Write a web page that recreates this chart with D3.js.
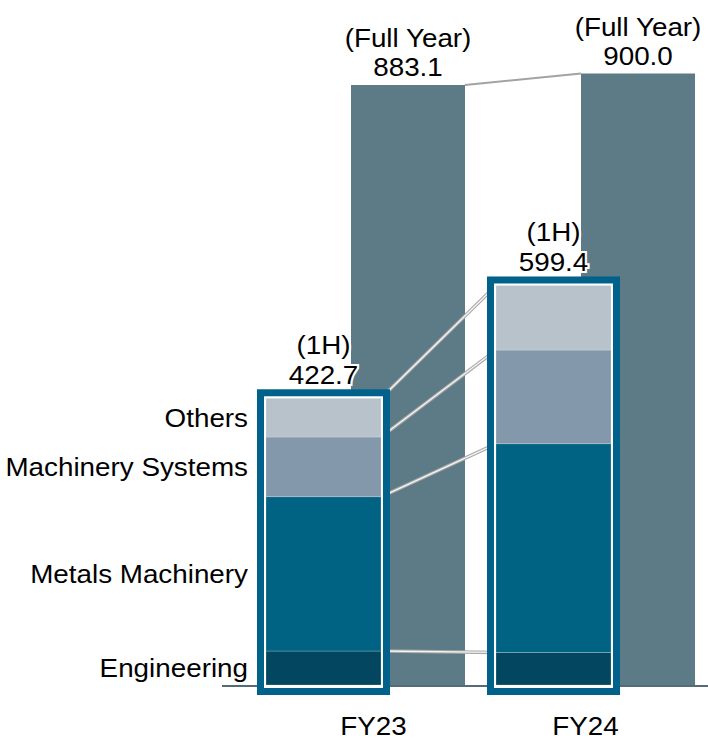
<!DOCTYPE html>
<html>
<head>
<meta charset="utf-8">
<script src="https://cdn.jsdelivr.net/npm/d3@7"></script>
<style>
  html, body { margin: 0; padding: 0; background: #fff; }
  text { font-family: "Liberation Sans", Arial, sans-serif; fill: #000; }
</style>
</head>
<body>
<script>
// chart values
const categories = ["FY23", "FY24"];
const fullYear = [883.1, 900.0];
const fullYearLabels = ["883.1", "900.0"];
const halfYearLabels = ["422.7", "599.4"];
const segments = ["Engineering", "Metals Machinery", "Machinery Systems", "Others"];
const engineering = [50, 48];
const metals = [227, 307];
const machinery = [88, 138];
const others = [57, 95];

const width = 708, height = 739;
const colors = {
  "Engineering": "#02475f",
  "Metals Machinery": "#006384",
  "Machinery Systems": "#8399ab",
  "Others": "#b8c2cb"
};
const fullFill = "#5c7b86";
const frameFill = "#00628a";
const fontSize = 26;
const stretch = 1.07;   // text in the original is a bit wide

const svg = d3.select("body").append("svg")
  .attr("width", width).attr("height", height);

const x = d3.scaleBand().domain(categories).range([236, 696]);
const y = d3.scaleLinear().domain([0, 900]).range([685, 73.5]);

const rows = categories.map((c, i) => ({
  cat: c,
  "Engineering": engineering[i],
  "Metals Machinery": metals[i],
  "Machinery Systems": machinery[i],
  "Others": others[i]
}));
const stacked = d3.stack().keys(segments)(rows);

const fullX = c => x(c) + 115, fullW = 114;
const frameX = c => x(c) + 21, frameW = 133;
const inset = 9;

function label(g, px, py, str, anchor) {
  return g.append("text")
    .attr("transform", `translate(${px},${py}) scale(${stretch},1)`)
    .attr("text-anchor", anchor || "middle")
    .style("font-size", fontSize + "px")
    .text(str);
}

// full year bars
svg.append("g").selectAll("rect")
  .data(categories)
  .join("rect")
  .attr("x", d => fullX(d))
  .attr("width", fullW)
  .attr("y", (d, i) => y(fullYear[i]))
  .attr("height", (d, i) => y(0) - y(fullYear[i]))
  .attr("fill", fullFill);

// line between the full-year tops
svg.append("line")
  .attr("x1", fullX("FY23") + fullW).attr("y1", y(fullYear[0]))
  .attr("x2", fullX("FY24")).attr("y2", y(fullYear[1]))
  .attr("stroke", "#a3a3a3").attr("stroke-width", 2);

// baseline
svg.append("line")
  .attr("x1", 222).attr("x2", width)
  .attr("y1", y(0) + 1).attr("y2", y(0) + 1)
  .attr("stroke", "#1b3b4b").attr("stroke-width", 1.5);

// connector lines between segment boundaries of the two 1H stacks
const bounds = [stacked[0].map(d => d[0])].concat(stacked.map(s => s.map(d => d[1])));
const conn = svg.append("g");
bounds.forEach(b => {
  const x1 = frameX("FY23") + inset + (frameW - 2 * inset);
  const x2 = frameX("FY24") + inset;
  if (b[0] === 0) return;
  conn.append("line")
    .attr("x1", x1).attr("y1", y(b[0])).attr("x2", x2).attr("y2", y(b[1]))
    .attr("stroke", "#a8a8a8").attr("stroke-width", 3.5);
  conn.append("line")
    .attr("x1", x1).attr("y1", y(b[0])).attr("x2", x2).attr("y2", y(b[1]))
    .attr("stroke", "#f4f4f4").attr("stroke-width", 1.4);
});

// 1H frames
const totals = rows.map(r => d3.sum(segments, k => r[k]));
const frames = svg.append("g");
categories.forEach((c, i) => {
  const top = y(totals[i]) - inset;
  const bottom = y(0) + inset + 1;
  frames.append("rect")
    .attr("x", frameX(c)).attr("y", top)
    .attr("width", frameW).attr("height", bottom - top)
    .attr("fill", frameFill);
  frames.append("rect")
    .attr("x", frameX(c) + 7).attr("y", top + 7)
    .attr("width", frameW - 14).attr("height", bottom - top - 14)
    .attr("fill", "#fff");
});

// stacked segments
svg.append("g").selectAll("g")
  .data(stacked)
  .join("g")
  .attr("fill", d => colors[d.key])
  .selectAll("rect")
  .data(d => d)
  .join("rect")
  .attr("x", d => frameX(d.data.cat) + inset)
  .attr("width", frameW - 2 * inset)
  .attr("y", d => y(d[1]))
  .attr("height", d => y(d[0]) - y(d[1]))
  .attr("stroke", "rgba(255,255,255,0.35)")
  .attr("stroke-width", 0.6);

// value labels
const labels = svg.append("g");
categories.forEach((c, i) => {
  const fx = fullX(c) + fullW / 2;
  const ft = y(fullYear[i]);
  label(labels, fx, ft - 9, fullYearLabels[i]);
  label(labels, fx, ft - 38, "(Full Year)");

  const hx = frameX(c) + frameW / 2;
  const ht = y(totals[i]) - inset;
  label(labels, hx, ht - 5, halfYearLabels[i])
    .attr("stroke", "#fff").attr("stroke-width", 4).attr("paint-order", "stroke");
  label(labels, hx, ht - 35, "(1H)")
    .attr("stroke", "#fff").attr("stroke-width", 4).attr("paint-order", "stroke");
});

// segment names beside the FY23 stack
const names = svg.append("g");
stacked.forEach(s => {
  const d = s[0];
  label(names, 248, (y(d[0]) + y(d[1])) / 2 + 9, s.key, "end");
});

// category axis
const xLab = d3.scalePoint().domain(categories).range([373, 585]);
const axis = svg.append("g")
  .attr("transform", "translate(0,735)")
  .call(d3.axisBottom(xLab).tickSize(0));
axis.select(".domain").remove();
axis.selectAll("text")
  .attr("y", 0).attr("dy", 0)
  .attr("transform", `scale(${stretch},1)`)
  .style("font-size", fontSize + "px")
  .style("font-family", "Liberation Sans, Arial, sans-serif")
  .attr("fill", "#000");
</script>
</body>
</html>
